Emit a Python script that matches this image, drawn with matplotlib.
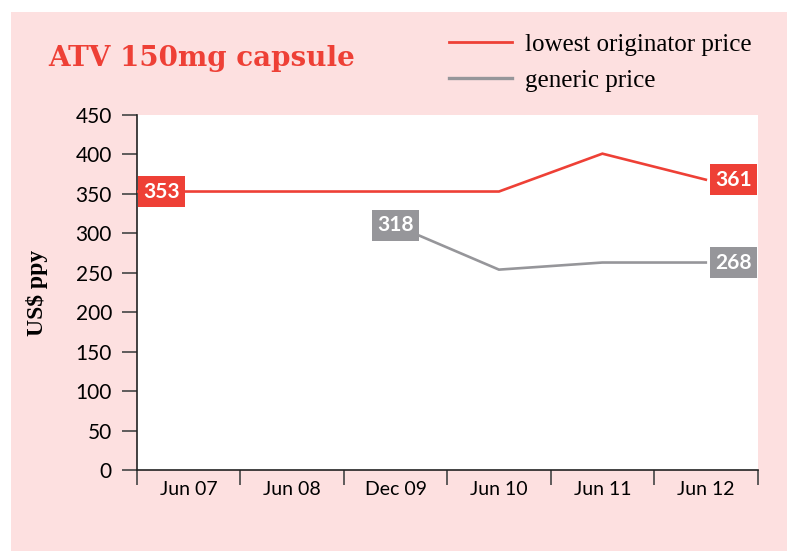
import numpy as np
import matplotlib
matplotlib.use("Agg")
import matplotlib.pyplot as plt
from matplotlib.patches import Rectangle
from matplotlib.lines import Line2D

periods = ["Jun 07", "Jun 08", "Dec 09", "Jun 10", "Jun 11", "Jun 12"]
originator = [353, 353, 353, 353, 401, 368]
generic = [np.nan, np.nan, 310, 254, 263, 263]
originator_labels = ["353", "361"]   # first / last
generic_labels = ["318", "268"]      # first / last
yticks = [0, 50, 100, 150, 200, 250, 300, 350, 400, 450]

RED = "#ee4036"
GRAY = "#96969a"
PINK = "#fde0e0"
W, H = 787, 551

fig = plt.figure(figsize=(W / 100, H / 100), dpi=100)
fig.patch.set_facecolor("white")
fig.add_artist(Rectangle((11 / W, 0), 1 - 11 / W, 1 - 12 / H, transform=fig.transFigure,
                         facecolor=PINK, edgecolor="none", zorder=0))

ax = fig.add_axes([137 / W, 81 / H, (757.5 - 137) / W, 355 / H])
ax.set_facecolor("white")
x = np.arange(len(periods))

# red line, starts at the left edge of the plot
ax.plot(np.r_[-0.5, x], np.r_[originator[0], originator], color=RED, lw=1.9,
        solid_joinstyle="miter", zorder=3)
ax.plot(x, generic, color=GRAY, lw=1.9, solid_joinstyle="miter", zorder=3)

ax.set_xlim(-0.5, len(periods) - 0.5)
ax.set_ylim(0, 450)

lab_font = dict(family="Lato", size=15, weight="bold", color="white")
def box(c):
    return dict(boxstyle="square,pad=0.25", fc=c, ec="none")

pad_px = 6
ax.annotate(originator_labels[0], xy=(-0.5, originator[0]), xytext=(pad_px, 0),
            textcoords="offset pixels", ha="left", va="center", bbox=box(RED), zorder=5, **lab_font)
ax.annotate(originator_labels[1], xy=(len(periods) - 0.5, originator[-1]), xytext=(-pad_px, 0),
            textcoords="offset pixels", ha="right", va="center", bbox=box(RED), zorder=5, **lab_font)
first_g = int(np.where(~np.isnan(generic))[0][0])
ax.annotate(generic_labels[0], xy=(first_g, generic[first_g]), ha="center", va="center",
            bbox=box(GRAY), zorder=5, **lab_font)
ax.annotate(generic_labels[1], xy=(len(periods) - 0.5, generic[-1]), xytext=(-pad_px, 0),
            textcoords="offset pixels", ha="right", va="center", bbox=box(GRAY), zorder=5, **lab_font)

# axes styling
for s in ["top", "right"]:
    ax.spines[s].set_visible(False)
for s in ["left", "bottom"]:
    ax.spines[s].set_color("#222222")
    ax.spines[s].set_linewidth(1.2)

ax.set_yticks(yticks)
ax.set_yticklabels([str(v) for v in yticks], family="Lato", size=15)
ax.tick_params(axis="y", length=11, width=1.2, color="#444444", pad=7)

ax.set_xticks(x)
ax.set_xticklabels(periods, family="Lato", size=14)
ax.set_xticks(np.arange(-0.5, len(periods)), minor=True)
ax.tick_params(axis="x", which="major", length=0, pad=8)
ax.tick_params(axis="x", which="minor", length=11, width=1.2, color="#444444")

ax.set_ylabel("US$ ppy", family="Liberation Serif", weight="bold", size=17, labelpad=20)

fig.text(48 / W, 1 - 58 / H, "ATV 150mg capsule", color=RED, family="DejaVu Serif",
         weight="bold", size=20, ha="left", va="center")

handles = [Line2D([], [], color=RED, lw=2), Line2D([], [], color=GRAY, lw=2.4)]
fig.legend(handles, ["lowest originator price", "generic price"], loc="upper left",
           bbox_to_anchor=(449 / W, 1 - 33 / H), frameon=False, borderpad=0, borderaxespad=0,
           handlelength=2.5, handletextpad=0.55, labelspacing=0.55,
           prop=dict(family="Liberation Serif", size=18))

fig.savefig("out.png", dpi=100, facecolor=fig.get_facecolor())
